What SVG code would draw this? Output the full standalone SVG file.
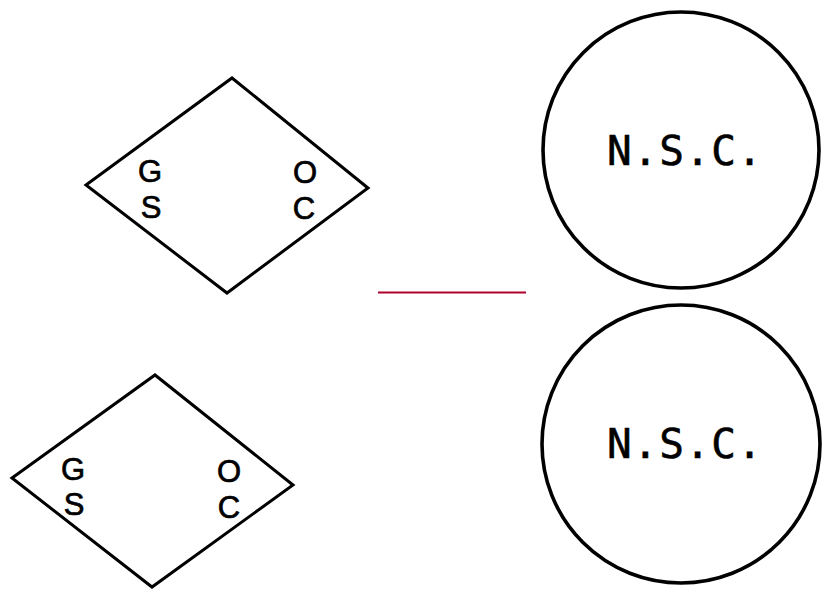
<svg xmlns="http://www.w3.org/2000/svg" width="823" height="594" viewBox="0 0 823 594">
<style>
.shape{fill:none;stroke:#000;stroke-width:3;stroke-linejoin:miter}
.circ{fill:none;stroke:#000;stroke-width:3.6}
.lbl{font-family:"Liberation Sans",Arial,sans-serif;font-size:31px;fill:#000;stroke:#000;stroke-width:0.7;text-anchor:middle}
.nsc{font-family:"DejaVu Sans Mono","Liberation Mono",monospace;font-size:41px;fill:#000;stroke:#000;stroke-width:0.6}
.conn{stroke:#b0002c;stroke-width:2.2;fill:none}
</style>
<rect width="823" height="594" fill="#fff"/>
<g id="diamond1">
<polygon class="shape" points="86,185 232,78 368,188 227,293"/>
<text class="lbl" x="150" y="182">G</text>
<text class="lbl" x="151" y="218">S</text>
<text class="lbl" x="305" y="183">O</text>
<text class="lbl" x="304" y="219">C</text>
</g>
<g id="diamond2">
<polygon class="shape" points="12,478 155,375 293,485 152,587"/>
<text class="lbl" x="73" y="480">G</text>
<text class="lbl" x="74" y="515">S</text>
<text class="lbl" x="229" y="482">O</text>
<text class="lbl" x="229" y="518">C</text>
</g>
<g id="circle1">
<circle class="circ" cx="681" cy="150" r="138"/>
<text class="nsc" x="607" y="165" textLength="155" lengthAdjust="spacing">N.S.C.</text>
</g>
<g id="circle2">
<circle class="circ" cx="681" cy="444" r="139"/>
<text class="nsc" x="607" y="458" textLength="155" lengthAdjust="spacing">N.S.C.</text>
</g>
<g id="connectors">
<line class="conn" x1="378" y1="292.5" x2="526" y2="292.5"/>
</g>
</svg>
